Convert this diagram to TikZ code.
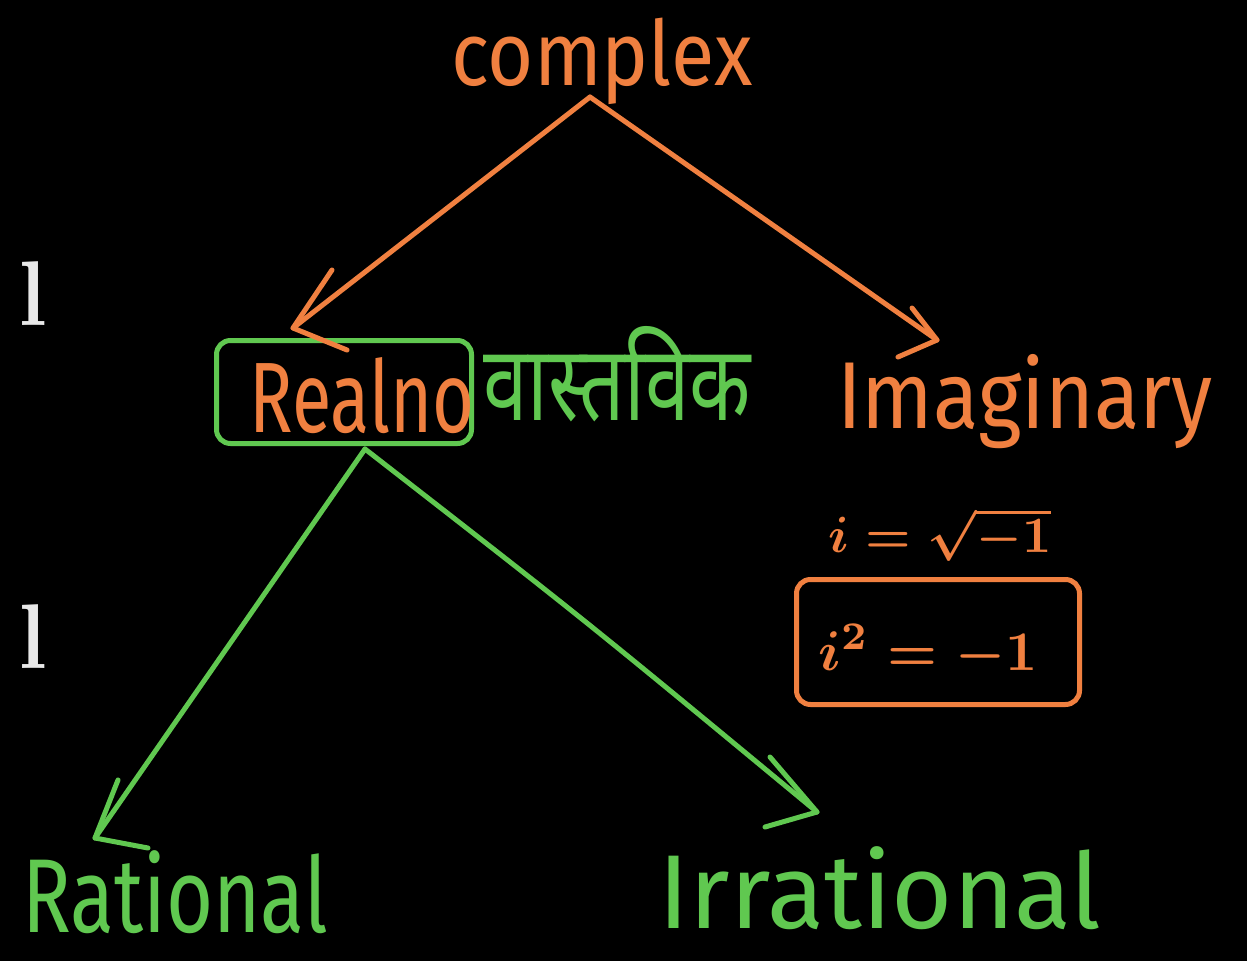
\documentclass[tikz,border=0pt]{standalone}
\usepackage{graphicx}
\usepackage{fontspec}
\newfontfamily\hand{Fira Sans}
\newfontfamily\deva[Script=Devanagari]{Noto Sans}
\definecolor{inkor}{RGB}{240,128,64}
\definecolor{inkgr}{RGB}{96,200,80}
\definecolor{inkwh}{RGB}{232,232,232}
\begin{document}
\begin{tikzpicture}[x=1pt,y=-1pt,
  ol/.style={draw=inkor,line width=5pt,line cap=round,line join=round},
  gl/.style={draw=inkgr,line width=5pt,line cap=round,line join=round},
  otext/.style={text=inkor,inner sep=0pt,anchor=base},
  gtext/.style={text=inkgr,inner sep=0pt,anchor=base},
  wtext/.style={text=inkwh,inner sep=0pt,anchor=base east,font=\bfseries\fontsize{92}{100}\selectfont}]
\fill[black] (0,0) rectangle (1247,961);
\clip (0,0) rectangle (1247,961);
% left-edge fragments
\node[wtext] (frag1) at (47,325) {l};
\node[wtext] (frag2) at (47,668) {l};
% nodes
\node[otext,font=\hand\fontsize{90}{100}\selectfont] (complex) at (602,85) {\scalebox{0.88}[1]{complex}};
\node[draw=inkgr,line width=5pt,rounded corners=14pt,minimum width=255pt,minimum height=103pt,inner sep=0pt] (real) at (344,392) {};
\node[otext,font=\hand\fontsize{100}{110}\selectfont] (realno) at (362,432) {\scalebox{0.72}[1]{Realno}};
\node[gtext,font=\deva\fontsize{105}{115}\selectfont] (vastavik) at (617,420) {\scalebox{0.76}[1]{वास्तविक}};
\node[otext,font=\hand\fontsize{95}{105}\selectfont] (imag) at (1025,428) {\scalebox{0.88}[1]{Imaginary}};
\node[otext] (idef) at (940,552) {\scalebox{5.1}{\boldmath$i=\sqrt{-1}$}};
\node[draw=inkor,line width=5pt,rounded corners=14pt,minimum width=283pt,minimum height=125pt,inner sep=0pt] (ibox) at (938,642) {};
\node[otext] (isq) at (928,670) {\scalebox{5.6}{\boldmath$i^{2}=-1$}};
\node[gtext,font=\hand\fontsize{105}{115}\selectfont] (rational) at (175,932) {\scalebox{0.77}[1]{Rational}};
\node[gtext,font=\hand\fontsize{105}{115}\selectfont] (irrational) at (880,928) {Irrational};
% connectors
\coordinate (cA) at (590,97);
\coordinate (tL) at (293,328);
\coordinate (tR) at (937,340);
\draw[ol] (cA) -- (tL);
\draw[ol] (tL) ++(39,-58) -- (tL) -- ++(54,22);
\draw[ol] (cA) -- (tR);
\draw[ol] (tR) ++(-25,-32) -- (tR) -- ++(-39,17);
\coordinate (gA) at (365,449);
\coordinate (tRa) at (95,838);
\coordinate (tIr) at (817,812);
\draw[gl] (gA) -- (tRa);
\draw[gl] (tRa) ++(23,-58) -- (tRa) -- ++(53,10);
\draw[gl] (gA) .. controls (585,620) .. (tIr);
\draw[gl] (tIr) ++(-47,-55) -- (tIr) -- ++(-52,15);
\end{tikzpicture}
\end{document}
